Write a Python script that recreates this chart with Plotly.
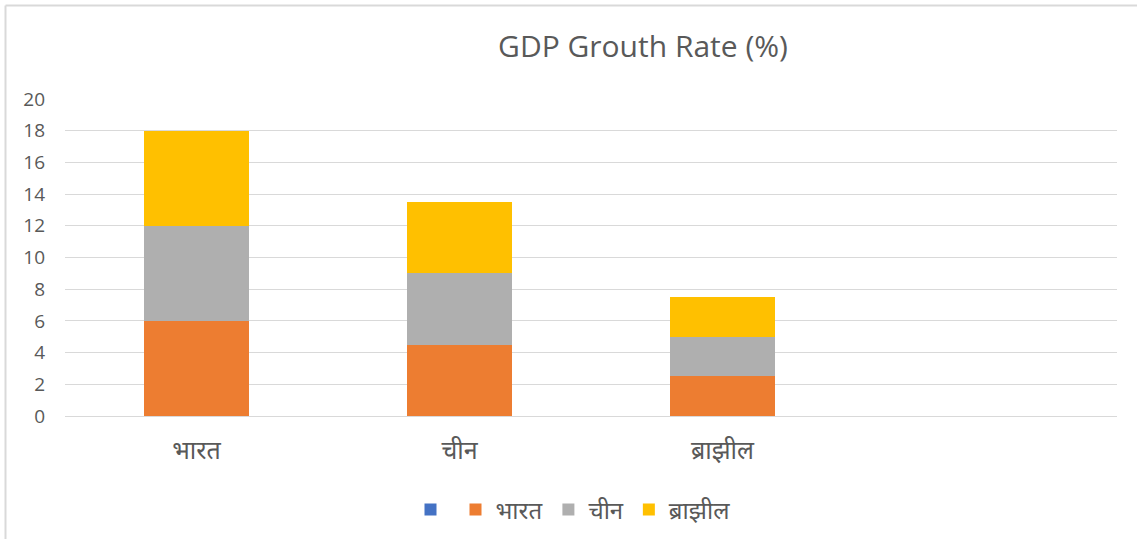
import plotly.graph_objects as go

categories = ["भारत", "चीन", "ब्राझील", " "]
series_names = ["", "भारत", "चीन", "ब्राझील"]
blank_vals = [None, None, None, None]
india_vals = [6, 4.5, 2.5, None]
china_vals = [6, 4.5, 2.5, None]
brazil_vals = [6, 4.5, 2.5, None]
colors = ["#4472C4", "#ED7D31", "#AFAFAF", "#FFC000"]
y_ticks = [0, 2, 4, 6, 8, 10, 12, 14, 16, 18, 20]

W, H = 1137, 539
L, R, T, B = 65, 20, 99, 123
pw, ph = W - L - R, H - T - B

fig = go.Figure()
for name, vals, col in zip(series_names, [blank_vals, india_vals, china_vals, brazil_vals], colors):
    fig.add_trace(go.Bar(x=categories, y=vals, name=name, marker=dict(color=col, line=dict(width=0)),
                         showlegend=True))

font_fam = "Noto Sans, Lato, DejaVu Sans, sans-serif"
fig.update_layout(
    width=W, height=H,
    barmode="stack", bargap=0.6,
    margin=dict(l=L, r=R, t=T, b=B, autoexpand=False),
    paper_bgcolor="white", plot_bgcolor="white",
    title=dict(text="GDP Grouth Rate (%)", x=643 / W, xanchor="center", y=1 - 46 / H, yanchor="middle",
               font=dict(family="Open Sans, sans-serif", size=30, color="#595959")),
    xaxis=dict(categoryorder="array", categoryarray=categories, range=[-0.5, 3.5], automargin=False,
               showgrid=False, showline=True, linecolor="#D9D9D9", ticks="",
               tickfont=dict(family=font_fam, size=25, color="#595959"), ticklabelstandoff=12),
    yaxis=dict(range=[0, 20], tickvals=y_ticks, showgrid=True, gridcolor="#D9D9D9", gridwidth=1,
               automargin=False, zeroline=False, showline=False, ticks="",
               tickfont=dict(family="Open Sans, sans-serif", size=19, color="#595959"), ticklabelstandoff=19),
    legend=dict(orientation="h", x=(573 - L) / pw, xanchor="center", y=(416 - 510) / ph, yanchor="middle",
                traceorder="normal", font=dict(family=font_fam, size=24, color="#595959"),
                itemwidth=30, tracegroupgap=0),
    showlegend=True,
)

# chart-area border (top and left edges visible)
fig.add_shape(type="line", xref="paper", yref="paper",
              x0=(5.5 - L) / pw, x1=(W - L) / pw, y0=(H - B - 5.5) / ph, y1=(H - B - 5.5) / ph,
              line=dict(color="#D9D9D9", width=2))
fig.add_shape(type="line", xref="paper", yref="paper",
              x0=(5.5 - L) / pw, x1=(5.5 - L) / pw, y0=(H - B - 5.5) / ph, y1=-B / ph,
              line=dict(color="#D9D9D9", width=2))

fig.write_html("out.html", config={"displayModeBar": False},
               post_script="document.body.style.margin='0';document.body.style.overflow='hidden';")
